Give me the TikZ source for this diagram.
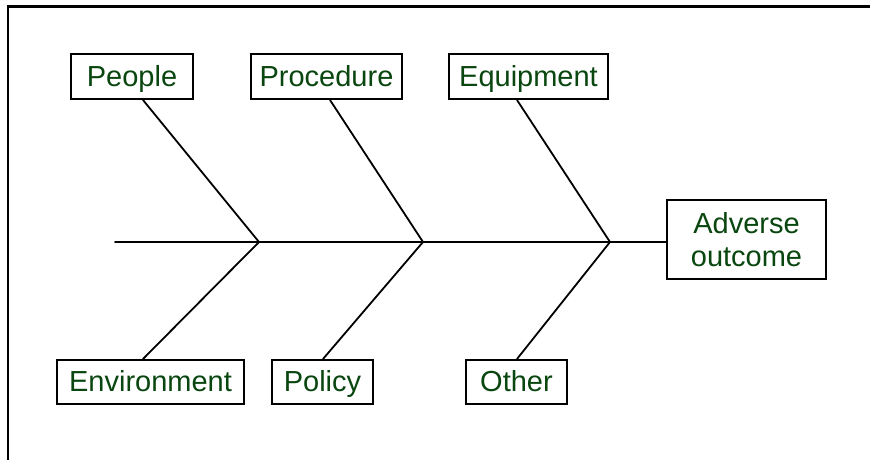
\documentclass[tikz,border=0pt]{standalone}
\usepackage{fontspec}
\setmainfont{Liberation Sans}
\usetikzlibrary{calc}
\definecolor{txtgreen}{RGB}{10,70,16}
\tikzset{
  box/.style={draw=black, line width=2pt, inner sep=0pt,
    text=txtgreen, font=\fontsize{29}{33}\selectfont, fill=white},
  cause/.style={box, minimum height=45pt, text height=21pt, text depth=2pt},
  bone/.style={line width=1.8pt, line cap=round}
}
\begin{document}
\begin{tikzpicture}[x=1pt,y=-1pt]
\useasboundingbox (0,0) rectangle (870,460);
\draw[line width=2.2pt] (8,460) -- (8,6.5) -- (870,6.5);
% boxes
\node[cause, minimum width=122pt] (people) at (132,76.5) {People};
\node[cause, minimum width=151pt] (proc) at (326.5,76.5) {Procedure};
\node[cause, minimum width=159pt] (equip) at (528.5,76.5) {Equipment};
\node[cause, minimum width=187pt, minimum height=44pt] (env) at (150.5,382) {Environment};
\node[cause, minimum width=101pt, minimum height=44pt] (policy) at (322.5,382) {Policy};
\node[cause, minimum width=101pt, minimum height=44pt] (other) at (516.5,382) {Other};
\node[box, minimum width=159pt, minimum height=79pt, align=center] (adverse) at (746.5,239.5) {Adverse\\outcome};
% spine
\coordinate (tail) at (115,242);
\coordinate (j1) at (259,242);
\coordinate (j2) at (423,242);
\coordinate (j3) at (610,242);
\draw[bone] (tail) -- (tail -| adverse.west);
% bones
\draw[bone] ([xshift=11pt]people.south) -- (j1) -- ([xshift=-7.5pt]env.north);
\draw[bone] ([xshift=3.5pt]proc.south) -- (j2) -- ([xshift=0.5pt]policy.north);
\draw[bone] ([xshift=-11.5pt]equip.south) -- (j3) -- ([xshift=0.5pt]other.north);
\end{tikzpicture}
\end{document}
